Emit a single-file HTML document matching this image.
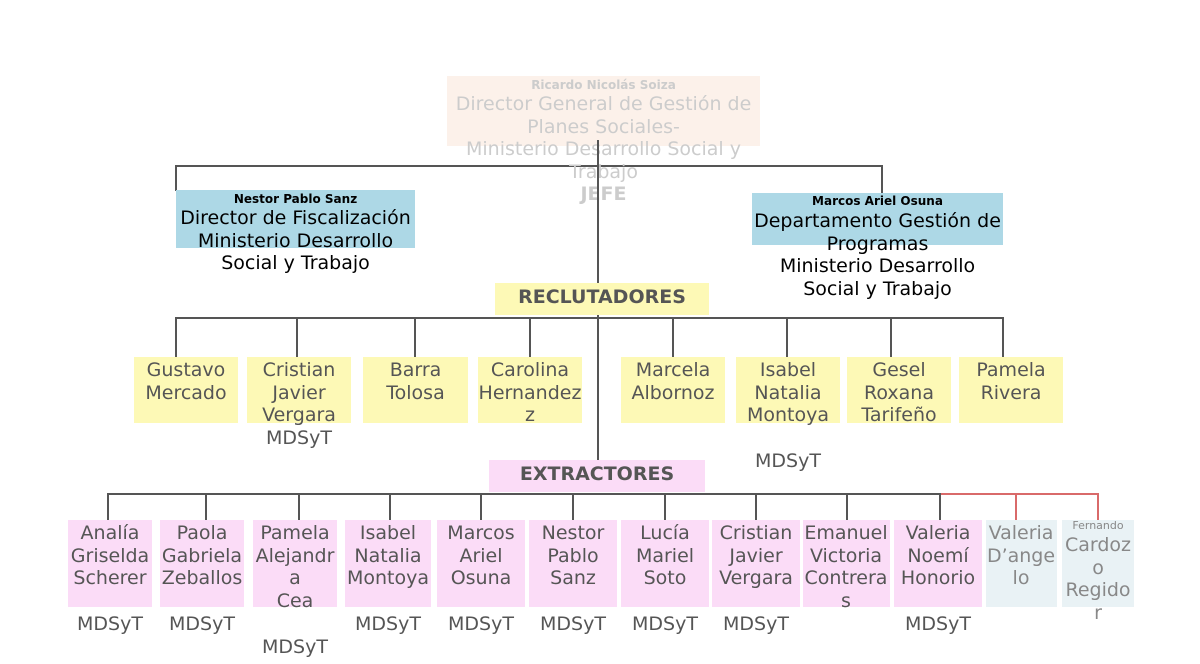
<!DOCTYPE html>
<html><head><meta charset="utf-8"><style>
body{margin:0;width:1200px;height:664px;background:#fff;position:relative;overflow:hidden;font-family:"DejaVu Sans","Liberation Sans",sans-serif}
div{position:absolute}
.b{}
.t{text-align:center;font-size:19px;line-height:22.7px;color:#555;white-space:nowrap}
.l{background:#555}
.r{background:#d96a6a}
.y{background:#fdf9b6}
.p{background:#fbdcf7}
.g{background:#e9f2f5}
</style></head><body>
<!-- connectors -->
<div class="l" style="left:176px;top:165px;width:707px;height:2px"></div>
<div class="l" style="left:175px;top:165px;width:2px;height:26px"></div>
<div class="l" style="left:881px;top:165px;width:2px;height:28px"></div>
<div class="l" style="left:597px;top:140px;width:2px;height:320px"></div>
<div class="l" style="left:175px;top:317px;width:829px;height:2px"></div>
<div class="l" style="left:175px;top:317px;width:2px;height:40px"></div>
<div class="l" style="left:296px;top:317px;width:2px;height:40px"></div>
<div class="l" style="left:414px;top:317px;width:2px;height:40px"></div>
<div class="l" style="left:529px;top:317px;width:2px;height:40px"></div>
<div class="l" style="left:672px;top:317px;width:2px;height:40px"></div>
<div class="l" style="left:786px;top:317px;width:2px;height:40px"></div>
<div class="l" style="left:890px;top:317px;width:2px;height:40px"></div>
<div class="l" style="left:1002px;top:317px;width:2px;height:40px"></div>
<div class="l" style="left:107px;top:493px;width:834px;height:2px"></div>
<div class="r" style="left:940px;top:493px;width:159px;height:2px"></div>
<div class="l" style="left:107px;top:493px;width:2px;height:27px"></div>
<div class="l" style="left:205px;top:493px;width:2px;height:27px"></div>
<div class="l" style="left:298px;top:493px;width:2px;height:27px"></div>
<div class="l" style="left:389px;top:493px;width:2px;height:27px"></div>
<div class="l" style="left:480px;top:493px;width:2px;height:27px"></div>
<div class="l" style="left:572px;top:493px;width:2px;height:27px"></div>
<div class="l" style="left:664px;top:493px;width:2px;height:27px"></div>
<div class="l" style="left:755px;top:493px;width:2px;height:27px"></div>
<div class="l" style="left:846px;top:493px;width:2px;height:27px"></div>
<div class="l" style="left:939px;top:493px;width:2px;height:27px"></div>
<div class="r" style="left:1015px;top:493px;width:2px;height:27px"></div>
<div class="r" style="left:1097px;top:493px;width:2px;height:27px"></div>

<!-- top -->
<div style="left:447px;top:76px;width:313px;height:70px;background:#fbeee6;opacity:.85"></div>
<div class="t" style="left:447px;top:77px;width:313px;font-size:12px;line-height:16px;font-weight:bold;color:#ccc">Ricardo Nicolás Soiza</div>
<div class="t" style="left:427px;top:93px;width:353px;color:#ccc">Director General de Gestión de<br>Planes Sociales-<br>Ministerio Desarrollo Social y<br>Trabajo</div>
<div class="t" style="left:447px;top:183px;width:313px;font-weight:bold;color:#ccc">JEFE</div>
<div class="l" style="left:597px;top:140px;width:2px;height:60px"></div>

<div style="left:176px;top:190px;width:239px;height:58px;background:#add8e6"></div>
<div class="t" style="left:156px;top:191px;width:279px;font-size:12px;line-height:16px;font-weight:bold;color:#000">Nestor Pablo Sanz</div>
<div class="t" style="left:156px;top:207px;width:279px;color:#000">Director de Fiscalización<br>Ministerio Desarrollo<br>Social y Trabajo</div>

<div style="left:752px;top:193px;width:251px;height:52px;background:#add8e6"></div>
<div class="t" style="left:732px;top:193px;width:291px;font-size:12px;line-height:16px;font-weight:bold;color:#000">Marcos Ariel Osuna</div>
<div class="t" style="left:732px;top:210px;width:291px;color:#000">Departamento Gestión de<br>Programas<br>Ministerio Desarrollo<br>Social y Trabajo</div>

<div class="y" style="left:495px;top:283px;width:214px;height:32px"></div>
<div class="t" style="left:495px;top:284px;width:214px;font-weight:bold;line-height:26px">RECLUTADORES</div>

<div class="y" style="left:134px;top:357px;width:104px;height:66px"></div>
<div class="t" style="left:134px;top:359px;width:104px">Gustavo<br>Mercado</div>
<div class="y" style="left:247px;top:357px;width:104px;height:66px"></div>
<div class="t" style="left:247px;top:359px;width:104px">Cristian<br>Javier<br>Vergara<br>MDSyT</div>
<div class="y" style="left:363px;top:357px;width:105px;height:66px"></div>
<div class="t" style="left:363px;top:359px;width:105px">Barra<br>Tolosa</div>
<div class="y" style="left:478px;top:357px;width:104px;height:66px"></div>
<div class="t" style="left:478px;top:359px;width:104px">Carolina<br>Hernandez<br>z</div>
<div class="y" style="left:621px;top:357px;width:104px;height:66px"></div>
<div class="t" style="left:621px;top:359px;width:104px">Marcela<br>Albornoz</div>
<div class="y" style="left:736px;top:357px;width:104px;height:66px"></div>
<div class="t" style="left:736px;top:359px;width:104px">Isabel<br>Natalia<br>Montoya<br><br>MDSyT</div>
<div class="y" style="left:847px;top:357px;width:104px;height:66px"></div>
<div class="t" style="left:847px;top:359px;width:104px">Gesel<br>Roxana<br>Tarifeño</div>
<div class="y" style="left:959px;top:357px;width:104px;height:66px"></div>
<div class="t" style="left:959px;top:359px;width:104px">Pamela<br>Rivera</div>

<div class="p" style="left:489px;top:460px;width:216px;height:32px"></div>
<div class="t" style="left:489px;top:461px;width:216px;font-weight:bold;line-height:26px">EXTRACTORES</div>

<div class="p" style="left:68px;top:520px;width:84px;height:87px"></div>
<div class="t" style="left:60px;top:522px;width:100px">Analía<br>Griselda<br>Scherer<br><br>MDSyT</div>
<div class="p" style="left:160px;top:520px;width:84px;height:87px"></div>
<div class="t" style="left:152px;top:522px;width:100px">Paola<br>Gabriela<br>Zeballos<br><br>MDSyT</div>
<div class="p" style="left:253px;top:520px;width:84px;height:87px"></div>
<div class="t" style="left:245px;top:522px;width:100px">Pamela<br>Alejandr<br>a<br>Cea<br><br>MDSyT</div>
<div class="p" style="left:345px;top:520px;width:86px;height:87px"></div>
<div class="t" style="left:338px;top:522px;width:100px">Isabel<br>Natalia<br>Montoya<br><br>MDSyT</div>
<div class="p" style="left:437px;top:520px;width:88px;height:87px"></div>
<div class="t" style="left:431px;top:522px;width:100px">Marcos<br>Ariel<br>Osuna<br><br>MDSyT</div>
<div class="p" style="left:529px;top:520px;width:88px;height:87px"></div>
<div class="t" style="left:523px;top:522px;width:100px">Nestor<br>Pablo<br>Sanz<br><br>MDSyT</div>
<div class="p" style="left:621px;top:520px;width:88px;height:87px"></div>
<div class="t" style="left:615px;top:522px;width:100px">Lucía<br>Mariel<br>Soto<br><br>MDSyT</div>
<div class="p" style="left:712px;top:520px;width:88px;height:87px"></div>
<div class="t" style="left:706px;top:522px;width:100px">Cristian<br>Javier<br>Vergara<br><br>MDSyT</div>
<div class="p" style="left:803px;top:520px;width:87px;height:87px"></div>
<div class="t" style="left:796px;top:522px;width:100px">Emanuel<br>Victoria<br>Contrera<br>s</div>
<div class="p" style="left:894px;top:520px;width:88px;height:87px"></div>
<div class="t" style="left:888px;top:522px;width:100px">Valeria<br>Noemí<br>Honorio<br><br>MDSyT</div>
<div class="g" style="left:986px;top:520px;width:71px;height:87px"></div>
<div class="t" style="left:971px;top:522px;width:100px;color:#888">Valeria<br>D’ange<br>lo</div>
<div class="g" style="left:1062px;top:520px;width:72px;height:87px"></div>
<div class="t" style="left:1048px;top:519px;width:100px;font-size:11px;line-height:14px;color:#888">Fernando</div>
<div class="t" style="left:1048px;top:534px;width:100px;color:#888">Cardoz<br>o<br>Regido<br>r</div>
</body></html>
